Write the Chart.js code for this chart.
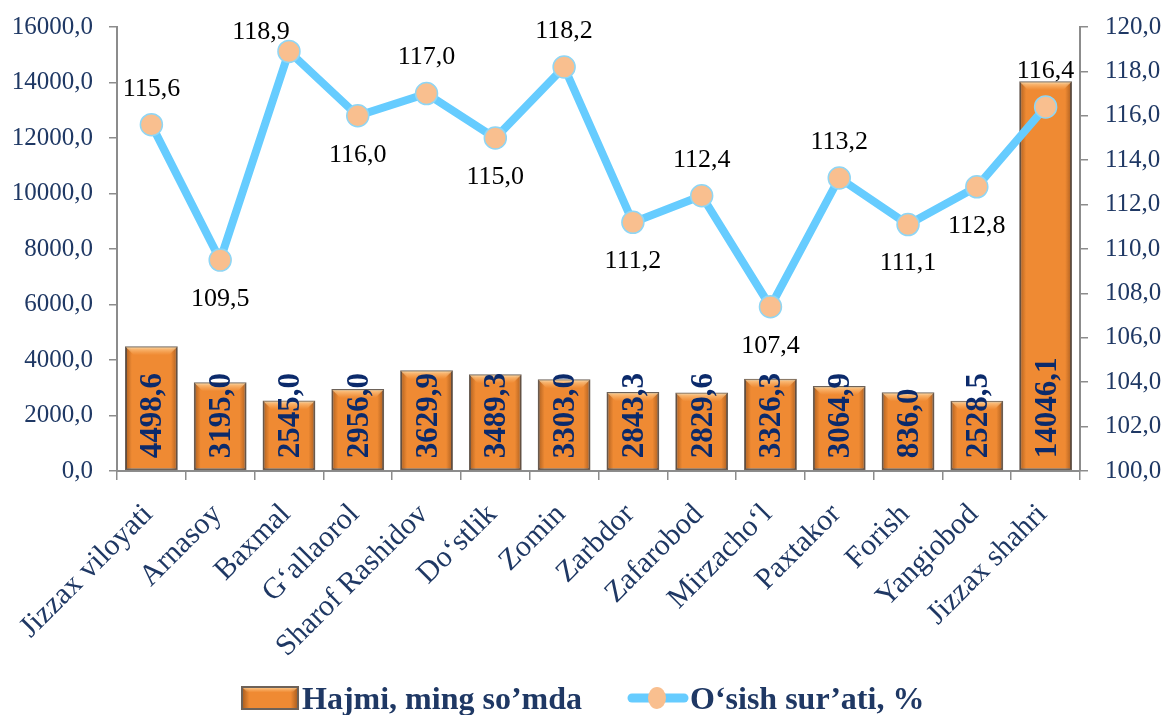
<!DOCTYPE html>
<html>
<head>
<meta charset="utf-8">
<script src="https://cdn.jsdelivr.net/npm/chart.js@4.4.0/dist/chart.umd.min.js"></script>
<style>
  html, body { margin: 0; padding: 0; background: #fff; }
  #wrap { width: 1166px; height: 715px; }
</style>
</head>
<body>
<div id="wrap"><canvas id="growthChart" width="1166" height="715"></canvas></div>
<script>
const districts = ['Jizzax viloyati', 'Arnasoy', 'Baxmal', 'G‘allaorol', 'Sharof Rashidov', 'Do‘stlik', 'Zomin',
    'Zarbdor', 'Zafarobod', 'Mirzacho‘l', 'Paxtakor', 'Forish', 'Yangiobod', 'Jizzax shahri'];
const volume = [4498.6, 3195.0, 2545.0, 2956.0, 3629.9, 3489.3, 3303.0, 2843.3, 2829.6, 3326.3, 3064.9, 2836.0, 2528.5, 14046.1];
// labels as printed on the bars (Forish is printed as "836,0")
const volumeLabels = ['4498,6', '3195,0', '2545,0', '2956,0', '3629,9', '3489,3', '3303,0', '2843,3', '2829,6',
    '3326,3', '3064,9', '836,0', '2528,5', '14046,1'];
const growth = [115.6, 109.5, 118.9, 116.0, 117.0, 115.0, 118.2, 111.2, 112.4, 107.4, 113.2, 111.1, 112.8, 116.4];
const seriesNames = ['Hajmi, ming so’mda', 'O‘sish sur’ati, %'];

const FONT = '"Liberation Serif", "Times New Roman", serif';
const NAVY = '#1f3864';
const ORANGE = '#ef8a33';
const BLUE = '#66ccff';
const PEACH = '#f9bf8f';

// where each growth label sits relative to its point
const labelSide = ['above', 'below', 'aboveLeft', 'below', 'above', 'below', 'above',
    'below', 'above', 'below', 'above', 'below', 'below', 'above'];

const fmt = v => Number(v).toFixed(1).replace('.', ',');

// bevel the bars like the office 3D style
function bevelBar(ctx, l, top, w, h) {
    const r = l + w;
    let g = ctx.createLinearGradient(l, 0, r, 0);
    g.addColorStop(0, 'rgba(80,35,5,0.45)');
    g.addColorStop(0.13, 'rgba(80,35,5,0)');
    g.addColorStop(0.87, 'rgba(80,35,5,0)');
    g.addColorStop(1, 'rgba(80,35,5,0.45)');
    ctx.fillStyle = g;
    ctx.fillRect(l + 1, top + 1, w - 2, h - 2);
    const bh = Math.min(9, h / 4);
    g = ctx.createLinearGradient(0, top, 0, top + bh);
    g.addColorStop(0, 'rgba(255,215,160,0.95)');
    g.addColorStop(1, 'rgba(255,190,120,0)');
    ctx.fillStyle = g;
    ctx.beginPath();
    ctx.moveTo(l + 1, top + 1);
    ctx.lineTo(r - 1, top + 1);
    ctx.lineTo(r - 1 - bh, top + 1 + bh);
    ctx.lineTo(l + 1 + bh, top + 1 + bh);
    ctx.closePath();
    ctx.fill();
}

const barDecor = {
    id: 'barDecor',
    afterDatasetDraw(chart, args) {
        if (args.meta.type !== 'bar') return;
        const ctx = chart.ctx;
        args.meta.data.forEach((bar, i) => {
            const p = bar.getProps(['x', 'y', 'base', 'width'], true);
            ctx.save();
            bevelBar(ctx, p.x - p.width / 2, p.y, p.width, p.base - p.y);
            ctx.translate(p.x + 2, p.base - 12);
            ctx.rotate(-Math.PI / 2);
            ctx.font = 'bold 31px ' + FONT;
            ctx.fillStyle = '#0b2a6b';
            ctx.textAlign = 'left';
            ctx.textBaseline = 'middle';
            ctx.fillText(volumeLabels[i], 0, 0);
            ctx.restore();
        });
    }
};

const lineLabels = {
    id: 'lineLabels',
    afterDatasetsDraw(chart) {
        const meta = chart.getDatasetMeta(1);
        const ctx = chart.ctx;
        ctx.save();
        ctx.font = '26px ' + FONT;
        ctx.fillStyle = '#000';
        ctx.textAlign = 'center';
        ctx.textBaseline = 'middle';
        meta.data.forEach((pt, i) => {
            const side = labelSide[i];
            let x = pt.x, y = pt.y;
            if (side === 'above') y -= 36;
            else if (side === 'below') y += 39;
            else { x -= 28; y -= 19; }
            ctx.fillText(fmt(growth[i]), x, y);
        });
        ctx.restore();
    }
};

// legend drawn by hand so it can sit left of centre like the original
const legendDraw = {
    id: 'legendDraw',
    afterDraw(chart) {
        const ctx = chart.ctx;
        const cy = 698;
        ctx.save();
        // bar icon
        ctx.fillStyle = ORANGE;
        ctx.fillRect(242, cy - 11, 56, 22);
        bevelBar(ctx, 242, cy - 11, 56, 22);
        ctx.strokeStyle = '#6d6259';
        ctx.lineWidth = 2;
        ctx.strokeRect(242, cy - 11, 56, 22);
        ctx.font = 'bold 32px ' + FONT;
        ctx.fillStyle = NAVY;
        ctx.textBaseline = 'alphabetic';
        ctx.fillText(seriesNames[0], 302, cy + 11);
        // line icon
        ctx.strokeStyle = BLUE;
        ctx.lineWidth = 9;
        ctx.lineCap = 'round';
        ctx.beginPath();
        ctx.moveTo(632, cy);
        ctx.lineTo(684, cy);
        ctx.stroke();
        ctx.fillStyle = PEACH;
        ctx.beginPath();
        ctx.ellipse(657, cy, 9, 11, 0, 0, Math.PI * 2);
        ctx.fill();
        ctx.fillStyle = NAVY;
        ctx.fillText(seriesNames[1], 690, cy + 11);
        ctx.restore();
    }
};

const axisGrey = '#8c8c8c';
// keep the plot top where the original has it (ticks padding would push it down)
const noVertPad = s => { s.paddingTop = 0; s.paddingBottom = 0; };

new Chart(document.getElementById('growthChart'), {
    type: 'bar',
    data: {
        labels: districts,
        datasets: [{
            type: 'bar',
            label: seriesNames[0],
            data: volume,
            yAxisID: 'y',
            order: 2,
            backgroundColor: ORANGE,
            borderColor: '#6d6259',
            borderWidth: 2,
            borderSkipped: false,
            categoryPercentage: 0.8,
            barPercentage: 0.96
        }, {
            type: 'line',
            label: seriesNames[1],
            data: growth,
            yAxisID: 'y1',
            order: 1,
            borderColor: BLUE,
            borderWidth: 8,
            tension: 0,
            pointRadius: 11,
            pointBackgroundColor: PEACH,
            pointBorderColor: '#8fd6f5',
            pointBorderWidth: 1.5
        }]
    },
    options: {
        responsive: false,
        animation: false,
        devicePixelRatio: 1,
        layout: { padding: { top: 27, left: 0, right: 0, bottom: 0 } },
        plugins: {
            legend: { display: false },
            tooltip: { enabled: false }
        },
        scales: {
            x: {
                offset: true,
                grid: { drawOnChartArea: false, color: axisGrey, tickLength: 9, lineWidth: 1.5 },
                border: { color: axisGrey, width: 2 },
                ticks: {
                    color: NAVY, font: { family: FONT, size: 30 },
                    minRotation: 45, maxRotation: 45, autoSkip: false,
                    padding: 17, labelOffset: -3
                },
                afterFit(s) { s.height = 244; }
            },
            y: {
                position: 'left',
                min: 0, max: 16000,
                grid: { drawOnChartArea: false, color: axisGrey, tickLength: 8, lineWidth: 1.5 },
                border: { color: axisGrey, width: 2 },
                ticks: {
                    stepSize: 2000, color: NAVY, padding: 16,
                    font: { family: FONT, size: 25 },
                    callback: v => fmt(v)
                },
                afterFit(s) { s.width = 117; noVertPad(s); }
            },
            y1: {
                position: 'right',
                min: 100, max: 120,
                grid: { drawOnChartArea: false, color: axisGrey, tickLength: 8, lineWidth: 1.5 },
                border: { color: axisGrey, width: 2 },
                ticks: {
                    stepSize: 2, color: NAVY, padding: 17,
                    font: { family: FONT, size: 25 },
                    callback: v => fmt(v)
                },
                afterFit(s) { s.width = 86; noVertPad(s); }
            }
        }
    },
    plugins: [barDecor, lineLabels, legendDraw]
});
</script>
</body>
</html>
